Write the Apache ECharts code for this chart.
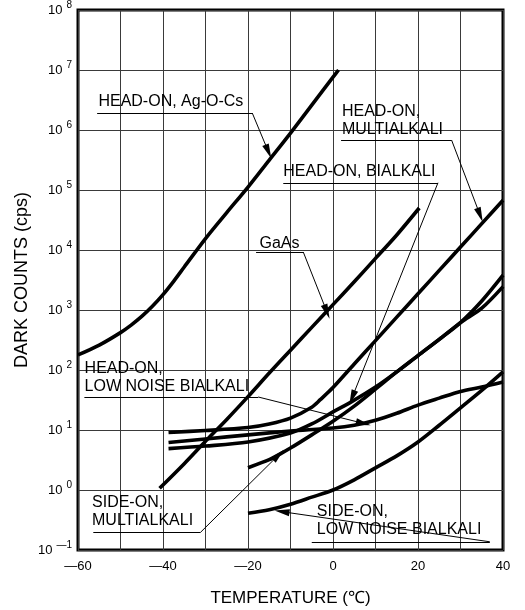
<!DOCTYPE html>
<html>
<head>
<meta charset="utf-8">
<script src="https://cdn.jsdelivr.net/npm/echarts@6/dist/echarts.min.js"></script>
<style>
html,body{margin:0;padding:0;background:#fff;}
#c{width:525px;height:610px;}
</style>
</head>
<body>
<div id="c"></div>
<script>
// ---- data (temperature in °C, dark counts in cps) ----
const agocsT = [-60, -55, -50, -47.5, -45, -42.5, -40, -37.5, -35, -30, -25, -20, -15, -10, -5, 0, 1.3];
const agocsV = [178, 260, 420, 560, 780, 1150, 1800, 3000, 5200, 15500, 42000, 112000, 316000, 890000, 2600000, 7600000, 10000000];

const gaasT = [-40.8, -35, -30, -25, -20, -15, -10, -5, 0, 5, 10, 15, 20.3];
const gaasV = [1.07, 2.75, 6.5, 15, 36, 89, 214, 513, 1230, 2950, 7240, 17800, 50100];

const hoMultiT = [-38.7, -30, -20, -15, -10, -5, -3, 0, 5, 10, 15, 20, 25, 30, 35, 40];
const hoMultiV = [9.1, 9.8, 11, 12.6, 15.8, 24, 32, 51, 126, 309, 760, 1860, 4570, 11200, 27500, 67600];

const hoBiT = [-38.7, -30, -20, -10, -5, 0, 4.5, 10, 15, 20, 25, 30, 35, 40];
const hoBiV = [4.9, 5.4, 6.3, 8.9, 12.6, 20, 30, 52, 93, 174, 324, 617, 1410, 3800];

const hoLowT = [-38.7, -30, -20, -10, 0, 5, 10, 15, 20, 25, 30, 35, 40];
const hoLowV = [6.2, 7.1, 8.3, 9.6, 10.8, 12, 14.5, 19, 26, 34, 44, 52, 63];

const soMultiT = [-20, -15, -12.4, -10, -5, 0, 5, 10, 15, 20, 25, 30, 35, 40];
const soMultiV = [2.35, 3.2, 4.0, 5.0, 8.3, 14, 25, 48, 93, 174, 324, 617, 1070, 2450];

const soLowT = [-20, -15, -10, -5, 0, 5, 10, 15, 20, 25, 30, 35, 40];
const soLowV = [0.41, 0.47, 0.58, 0.76, 1.0, 1.48, 2.34, 3.7, 6.3, 12, 23.4, 45.7, 93];

// tick labels
const xTickLabels = {'-60':'—60','-40':'—40','-20':'—20','0':'0','20':'20','40':'40'};

// annotations: text anchor [temp, cps], underline [from temp, to temp, cps], leader tip [temp, cps]
const annotations = [
  {text:'HEAD-ON, Ag-O-Cs', at:[-55.2, 2.93e6], ul:[-55.5, -19.0, 1.92e6], tip:[-15.2, 4.35e5]},
  {text:'HEAD-ON,\nMULTIALKALI', at:[2.1, 1.45e6], ul:[1.9, 27.9, 6.8e5], tip:[34.6, 3.83e4]},
  {text:'HEAD-ON, BIALKALI', at:[-11.7, 2.0e5], ul:[-11.7, 24.7, 1.32e5], tip:[4.5, 34.8]},
  {text:'GaAs', at:[-17.3, 1.28e4], ul:[-18.1, -7.0, 9.27e3], tip:[-1.45, 938]},
  {text:'HEAD-ON,\nLOW NOISE BIALKALI', at:[-58.45, 73.6], ul:[-58.5, -17.6, 35.5], tip:[7.15, 12.9]},
  {text:'SIDE-ON,\nMULTIALKALI', at:[-56.7, 0.435], ul:[-56.4, -31.2, 0.196], tip:[-12.8, 3.83]},
  {text:'SIDE-ON,\nLOW NOISE BIALKALI', at:[-3.8, 0.304], ul:[-5.0, 36.9, 0.137], tip:[-12.0, 0.435]}
];

const FONT = '"Liberation Sans", Arial, Helvetica, sans-serif';

function pairs(t, v){ return t.map((x,i)=>[x, v[i]]); }
function curve(name, t, v){
  return {
    name, type:'line', data: pairs(t, v), showSymbol:false, symbol:'none',
    smooth:0.3,
    lineStyle:{color:'#000', width:3.6, cap:'butt', join:'round'}, z:3, silent:true
  };
}

const chart = echarts.init(document.getElementById('c'), null, {renderer:'canvas'});

const mlData = [];
annotations.forEach(a => {
  mlData.push([{coord:[a.ul[0], a.ul[2]], symbol:'none'}, {coord:[a.ul[1], a.ul[2]], symbol:'none'}]);
  mlData.push([{coord:[a.ul[1], a.ul[2]], symbol:'none'}, {coord:[a.tip[0], a.tip[1]], symbol:'triangle', symbolSize:[7,15]}]);
});

const option = {
  animation:false,
  backgroundColor:'#fff',
  grid:{left:78, top:10, width:425, height:540, containLabel:false, outerBoundsMode:'none',
        show:true, borderColor:'#000', borderWidth:3, backgroundColor:'rgba(0,0,0,0)'},
  xAxis:{
    type:'value', min:-60, max:40, interval:10,
    axisLine:{show:false}, axisTick:{show:false},
    splitLine:{show:true, lineStyle:{color:'#3a3a3a', width:1}},
    axisLabel:{
      formatter: v => (xTickLabels[String(v)] !== undefined ? xTickLabels[String(v)] : ''),
      color:'#000', fontSize:13, fontFamily:FONT, margin:10
    },
    name:'TEMPERATURE (℃)', nameLocation:'middle', nameGap:40, nameMoveOverlap:false,
    nameTextStyle:{color:'#000', fontSize:17, fontFamily:FONT}
  },
  yAxis:{
    type:'log', logBase:10, min:0.1, max:1e8, interval:1,
    axisLine:{show:false}, axisTick:{show:false},
    splitLine:{show:true, lineStyle:{color:'#3a3a3a', width:1}},
    axisLabel:{
      formatter: v => { const e = Math.round(Math.log10(v)); return '{a|10}{e|' + (e < 0 ? '—' + (-e) : e) + '}'; },
      margin:6,
      rich:{
        a:{fontSize:13, fontFamily:FONT, color:'#000', lineHeight:20},
        e:{fontSize:10, fontFamily:FONT, color:'#000', lineHeight:8, verticalAlign:'top', padding:[0,0,0,4]}
      }
    },
    name:'DARK COUNTS (cps)', nameLocation:'middle', nameGap:47, nameMoveOverlap:false,
    nameTextStyle:{color:'#000', fontSize:18, fontFamily:FONT}
  },
  series:[
    curve('HEAD-ON, Ag-O-Cs', agocsT, agocsV),
    curve('GaAs', gaasT, gaasV),
    curve('HEAD-ON, MULTIALKALI', hoMultiT, hoMultiV),
    curve('HEAD-ON, BIALKALI', hoBiT, hoBiV),
    curve('HEAD-ON, LOW NOISE BIALKALI', hoLowT, hoLowV),
    curve('SIDE-ON, MULTIALKALI', soMultiT, soMultiV),
    curve('SIDE-ON, LOW NOISE BIALKALI', soLowT, soLowV),
    {
      name:'annotations', type:'line', data:[], silent:true,
      markLine:{
        silent:true, animation:false, symbol:['none','none'],
        label:{show:false},
        lineStyle:{color:'#000', width:1, type:'solid'},
        emphasis:{disabled:true},
        data: mlData
      }
    }
  ]
};
chart.setOption(option);

const g = annotations.map(a => {
  const p = chart.convertToPixel({gridIndex:0}, a.at);
  return {
    type:'text', x:p[0], y:p[1], z:10, silent:true,
    style:{text:a.text, fontSize:16, fontFamily:FONT, fill:'#000', verticalAlign:'middle', align:'left', lineHeight:18}
  };
});
chart.setOption({graphic:g});
</script>
</body>
</html>
